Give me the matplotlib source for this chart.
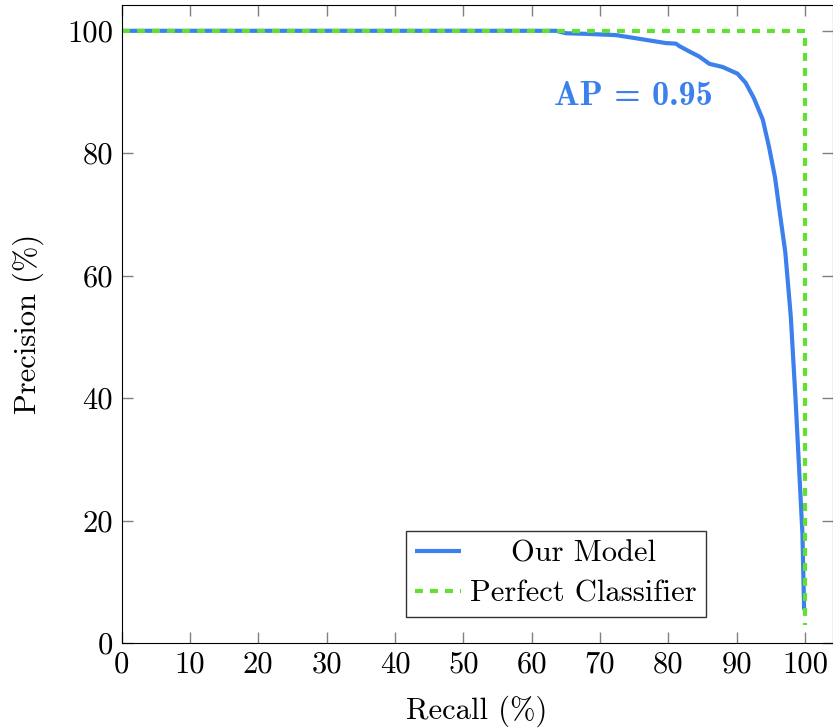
import numpy as np
import matplotlib.pyplot as plt

plt.rcParams['font.family'] = 'cmr10'
plt.rcParams['mathtext.fontset'] = 'cm'
plt.rcParams['axes.unicode_minus'] = False

recall = [0, 20, 40, 60, 63.6, 65.0, 68.0, 72.3, 75.7, 79.6, 81.1, 81.6, 83.1, 84.5,
          86.0, 87.9, 90.1, 91.3, 92.5, 93.8, 94.7, 95.6, 96.3, 97.1, 97.9, 98.6,
          99.1, 99.6, 99.85]
precision = [100, 100, 100, 100, 100, 99.6, 99.5, 99.3, 98.7, 98.0, 97.9, 97.5, 96.6, 95.8,
             94.6, 94.1, 93.0, 91.5, 89.0, 85.5, 81.1, 76.0, 70.2, 63.8, 53.3, 39.7,
             28.8, 17.9, 5.4]

perfect_recall = [0, 100, 100]
perfect_precision = [100, 100, 3]

blue = '#3b80ec'
green = '#62e032'

fig = plt.figure(figsize=(8.33, 7.28), dpi=100)
ax = fig.add_axes([0.1459, 0.1168, 0.8535, 0.8762])

ax.plot(recall, precision, color=blue, lw=3, label='Our Model',
        solid_capstyle='butt', solid_joinstyle='round')
ax.plot(perfect_recall, perfect_precision, color=green, lw=3,
        linestyle=(0, (1.9, 1.7)), label='Perfect Classifier')

ax.text(74.9, 89.2, 'AP = 0.95', color=blue, fontsize=24.5, family='cmb10',
        ha='center', va='center')

ax.set_xlim(0, 104)
ax.set_ylim(0, 104.2)
ax.set_xticks(np.arange(0, 101, 10))
ax.set_yticks(np.arange(0, 101, 20))
ax.tick_params(direction='in', top=True, right=True, color='gray',
               length=8, width=1, labelsize=22, pad=6)
ax.set_xlabel('Recall (%)', fontsize=22, labelpad=12)
ax.set_ylabel('Precision (%)', fontsize=22, labelpad=17)

leg = ax.legend(loc='lower left', bbox_to_anchor=(0.40, 0.041),
                fontsize=22, frameon=True, fancybox=False,
                edgecolor='black', handlelength=1.5, borderpad=0.3,
                labelspacing=0.4, handletextpad=0.3, borderaxespad=0)
leg.get_frame().set_linewidth(1)

# centre the shorter label over the longer one, like pgfplots does
fig.canvas.draw()
renderer = fig.canvas.get_renderer()
widths = [t.get_window_extent(renderer).width for t in leg.get_texts()]
items = leg._legend_handle_box.get_children()[0].get_children()
for item, w in zip(items, widths):
    item.sep += (max(widths) - w) / 2 * 72 / fig.dpi

fig.savefig('out.png', dpi=100)
